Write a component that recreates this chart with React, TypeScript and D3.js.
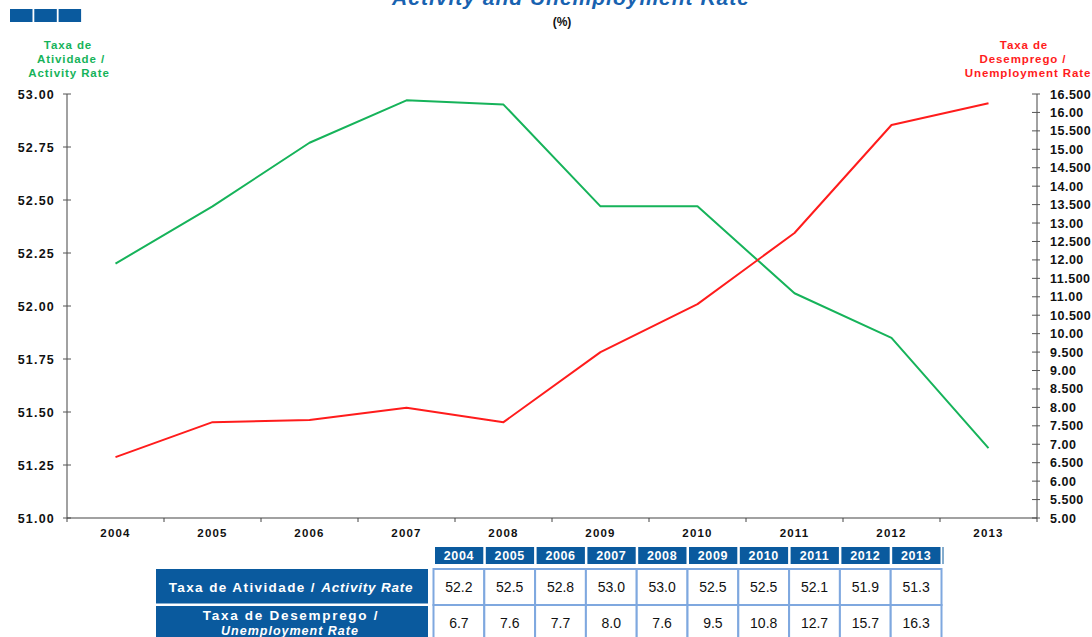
import React from 'react';
import * as d3 from 'd3';

/* ─── data ─── */
const YEARS = ['2004', '2005', '2006', '2007', '2008', '2009', '2010', '2011', '2012', '2013'];
const ACTIVITY = [52.2, 52.47, 52.77, 52.97, 52.95, 52.47, 52.47, 52.06, 51.85, 51.33];
const UNEMPLOYMENT = [6.65, 7.6, 7.66, 7.99, 7.6, 9.5, 10.8, 12.73, 15.66, 16.25];
const LEFT_TICKS = [51, 51.25, 51.5, 51.75, 52, 52.25, 52.5, 52.75, 53];
const RIGHT_TICKS = [5, 5.5, 6, 6.5, 7, 7.5, 8, 8.5, 9, 9.5, 10, 10.5, 11, 11.5, 12, 12.5, 13, 13.5, 14, 14.5, 15, 15.5, 16, 16.5];
const TABLE_ACTIVITY = ['52.2', '52.5', '52.8', '53.0', '53.0', '52.5', '52.5', '52.1', '51.9', '51.3'];
const TABLE_UNEMPLOYMENT = ['6.7', '7.6', '7.7', '8.0', '7.6', '9.5', '10.8', '12.7', '15.7', '16.3'];

/* ─── colours ─── */
const C = {
    green: '#16b35a',
    red: '#ff1c1c',
    blue: '#0a5a9e',
    titleBlue: '#1862b0',
    cellBorder: '#7fa8df',
    axisGrey: '#8a8a8a',
    text: '#111',
};
const FONT = "'Liberation Sans', Arial, sans-serif";

const W = 1092;
const H = 637;
const m = { left: 67, right: 1037, top: 94, bottom: 518 };

export default function App() {
    const x = d3.scaleBand<string>().domain(YEARS).range([m.left, m.right]);
    const yL = d3.scaleLinear().domain([51, 53]).range([m.bottom, m.top]);
    const yR = d3.scaleLinear().domain([5, 16.5]).range([m.bottom, m.top]);
    const cx = (y: string) => (x(y) as number) + x.bandwidth() / 2;

    const actLine = d3.line<number>().x((_, i) => cx(YEARS[i])).y(d => yL(d))(ACTIVITY) || '';
    const unLine = d3.line<number>().x((_, i) => cx(YEARS[i])).y(d => yR(d))(UNEMPLOYMENT) || '';

    // table columns
    const xt = d3.scaleBand<string>().domain(YEARS).range([433.5, 941.5]);
    const rows = [
        { y0: 569, y1: 605, vals: TABLE_ACTIVITY },
        { y0: 605, y1: 641, vals: TABLE_UNEMPLOYMENT },
    ];

    const rightFmt = (v: number) => (v % 1 === 0 ? v.toFixed(2) : v.toFixed(3));

    return (
        <svg width={W} height={H} style={{ position: 'absolute', left: 0, top: 0, background: '#fff' }} fontFamily={FONT}>
            {/* header squares */}
            {[0, 1, 2].map(i => (
                <rect key={i} x={10 + i * 24.3} y={9} width={22.5} height={13} fill={C.blue} />
            ))}

            {/* titles */}
            <text x={571} y={5} textAnchor="middle" fontSize={21} fontWeight="bold" fontStyle="italic" letterSpacing={1} fill={C.titleBlue}>
                Activity and Unemployment Rate
            </text>
            <text x={562} y={26} textAnchor="middle" fontSize={12} fontWeight="bold" fill={C.text}>(%)</text>

            {/* axis titles */}
            <g fontSize={11.5} fontWeight="bold" fill={C.green} textAnchor="middle" letterSpacing={0.9}>
                <text x={68} y={49}>Taxa de</text>
                <text x={71} y={63}>Atividade  /</text>
                <text x={69} y={77}>Activity Rate</text>
            </g>
            <g fontSize={11.5} fontWeight="bold" fill={C.red} textAnchor="middle" letterSpacing={0.9}>
                <text x={1024} y={49}>Taxa de</text>
                <text x={1023} y={63}>Desemprego  /</text>
                <text x={1028} y={77}>Unemployment  Rate</text>
            </g>

            {/* left axis */}
            <line x1={m.left} x2={m.left} y1={m.top} y2={m.bottom} stroke={C.axisGrey} strokeWidth={1.6} />
            {LEFT_TICKS.map(t => (
                <g key={t}>
                    <line x1={m.left - 4} x2={m.left + 4} y1={yL(t)} y2={yL(t)} stroke="#555" strokeWidth={1} />
                    <text x={55} y={yL(t) + 4.5} textAnchor="end" fontSize={12.5} fontWeight="bold" letterSpacing={1.2} fill={C.text}>
                        {t.toFixed(2)}
                    </text>
                </g>
            ))}

            {/* right axis */}
            <line x1={m.right} x2={m.right} y1={m.top} y2={m.bottom} stroke={C.axisGrey} strokeWidth={1.6} />
            {RIGHT_TICKS.map(t => (
                <g key={t}>
                    <line x1={m.right - 5} x2={m.right + 3} y1={yR(t)} y2={yR(t)} stroke="#555" strokeWidth={1} />
                    <text x={1050} y={yR(t) + 4.5} fontSize={12.5} fontWeight="bold" letterSpacing={0.5} fill={C.text}>
                        {rightFmt(t)}
                    </text>
                </g>
            ))}

            {/* bottom axis */}
            <line x1={m.left} x2={m.right} y1={m.bottom} y2={m.bottom} stroke="#444" strokeWidth={1.2} />
            {YEARS.map(yr => (
                <g key={yr}>
                    <line x1={x(yr) as number} x2={x(yr) as number} y1={m.bottom} y2={m.bottom + 4} stroke="#444" />
                    <text x={cx(yr)} y={537} textAnchor="middle" fontSize={11.5} fontWeight="bold" letterSpacing={1.2} fill={C.text}>
                        {yr}
                    </text>
                </g>
            ))}
            <line x1={m.right} x2={m.right} y1={m.bottom} y2={m.bottom + 4} stroke="#444" />

            {/* series */}
            <path d={actLine} fill="none" stroke={C.green} strokeWidth={2} strokeLinejoin="round" />
            <path d={unLine} fill="none" stroke={C.red} strokeWidth={2} strokeLinejoin="round" />

            {/* table header */}
            {YEARS.map(yr => (
                <g key={'h' + yr}>
                    <rect x={(xt(yr) as number) + 1.5} y={547} width={xt.bandwidth() - 2.5} height={17} fill={C.blue} />
                    <text x={(xt(yr) as number) + xt.bandwidth() / 2} y={560} textAnchor="middle" fontSize={12.5} fontWeight="bold" letterSpacing={0.6} fill="#fff">
                        {yr}
                    </text>
                </g>
            ))}
            <line x1={943} x2={943} y1={547} y2={564} stroke={C.blue} strokeWidth={1} />

            {/* row labels */}
            <rect x={156} y={569} width={272} height={34.5} fill={C.blue} />
            <rect x={156} y={606} width={272} height={36} fill={C.blue} />
            <text x={291} y={591.5} textAnchor="middle" fontSize={13.5} fontWeight="bold" letterSpacing={1.4} fill="#fff">
                Taxa de Atividade / <tspan fontStyle="italic" letterSpacing={0.8}>Activity Rate</tspan>
            </text>
            <text x={291} y={620} textAnchor="middle" fontSize={13.5} fontWeight="bold" letterSpacing={1.7} fill="#fff">
                Taxa de Desemprego /
            </text>
            <text x={290} y={635} textAnchor="middle" fontSize={12.5} fontWeight="bold" fontStyle="italic" letterSpacing={1} fill="#fff">
                Unemployment Rate
            </text>

            {/* table cells */}
            {rows.map((r, ri) =>
                YEARS.map((yr, i) => (
                    <g key={ri + yr}>
                        <rect x={xt(yr) as number} y={r.y0} width={xt.bandwidth()} height={r.y1 - r.y0} fill="#fff" stroke={C.cellBorder} strokeWidth={2} />
                        <text x={(xt(yr) as number) + xt.bandwidth() / 2} y={(r.y0 + r.y1) / 2 + 5} textAnchor="middle" fontSize={14} fill={C.text}>
                            {r.vals[i]}
                        </text>
                    </g>
                ))
            )}
        </svg>
    );
}
